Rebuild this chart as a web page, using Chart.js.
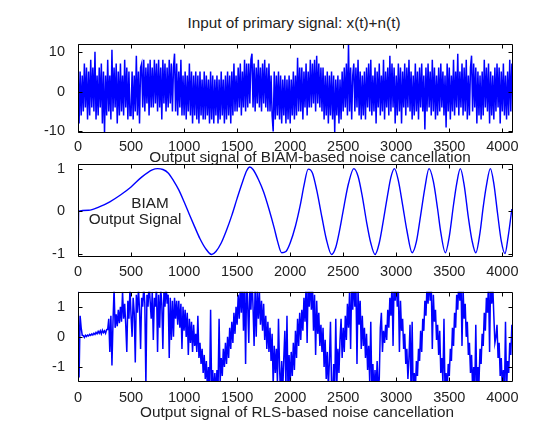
<!DOCTYPE html>
<html><head><meta charset="utf-8">
<script src="https://cdn.jsdelivr.net/npm/chart.js@4.4.0/dist/chart.umd.min.js"></script>
<style>
html,body{margin:0;padding:0;background:#fff;}
body{width:559px;height:423px;position:relative;overflow:hidden;font-family:"Liberation Sans",Arial,sans-serif;}
canvas{position:absolute;left:0;}
.t{position:absolute;white-space:nowrap;font-size:15.3px;color:#222;transform:translate(-50%,-50%);line-height:1;}
</style></head><body>
<div class="t" style="left:294px;top:23px">Input of primary signal: x(t)+n(t)</div>
<canvas id="c1" width="559" height="123" style="top:30px"></canvas>
<canvas id="c2" width="559" height="128" style="top:150px"></canvas>
<div class="t" style="left:310px;top:157px">Output signal of BIAM-based noise cancellation</div>
<div class="t" style="left:150px;top:203px">BIAM</div>
<div class="t" style="left:135px;top:219px">Output Signal</div>
<canvas id="c3" width="559" height="125" style="top:278px"></canvas>
<div class="t" style="left:297px;top:412px">Output signal of RLS-based noise cancellation</div>
<script>
// ---------- data ----------
const xTicks = [0, 500, 1000, 1500, 2000, 2500, 3000, 3500, 4000];
const primaryYTicks = [-10, 0, 10];
const biamYTicks = [-1, 0, 1];
const rlsYTicks = [-1, 0, 1];
const sampleStep = 10; // samples between stored values (sample index = i*sampleStep)

// primary input x(t)+n(t), one value every 10 samples
const primaryValues = [
 7,-8,5,-6,4,-5,7,-4,6,-7,
 5,-6,8,-4,6,-5,10,-7,4,-6,
 6,-4,7,-8,5,-10.5,4,-6,8,-5,
 4,-7,10.5,-5,6,-4,7,-8,5,-6,
 7,-5,4,-6,8,-4,6,-7,5,-6,
 -6,5,-7,4,-5,9,-6,5,-8,6,
 7,-4,8,-5,6,-3,7,-6,8,-4,
 6,-4,8,-3,7,-5,8,-4,6,-7,
 8,-3,7,-5,6,-4,8,-3,7,-5,
 6,9.5,-5,7,-6,5,-4,8,-6,4,
 -6,5,-7,4,-5,7,-6,5,-8,4,
 -6,5,-7,4,-8,5,-6,3,-7,5,
 -7,4,-6,3,-8,5,-7,4,-8,3,
 -6,4,-8,3,-7,5,-6,3,-8,4,
 -7,5,-6,4,-8,5,-6,7,-5,4,
 -5,6,-4,7,-6,5,-4,8,-5,7,
 -4,7,-3,8,9.5,-4,7,-5,6,-3,
 8,-4,6,-5,7,-3,8,-4,6,-5,
 7,-5,4,-6,-10,5,-7,4,-6,5,
 -7,4,-8,3,-6,4,-8,3,-7,4,
 -8,3,-6,5,-7,4,-6,8.5,-5,6,
 -5,6,-7,5,-4,7,-6,5,-4,8,
 -4,7,-3,8,-5,9,-3,7,-4,6,
 -5,6,-7,4,-6,5,-8,4,-6,5,
 -7,4,-10.2,3,-6,4,-8,3,-7,5,
 -5,6,-4,7,-6,12,-5,6,-7,4,
 7,-5,6,-4,8,-6,5,-7,4,-6,
 5,-7,6,-4,7,-5,8,-6,4,-5,
 6,-8,5,-4,7,-6,4,-5,8,-7,
 5,-4,6,-6,9,-5,7,-4,6,-8,
 4,-6,7,-5,6,-8,5,-4,7,-6,
 6,-4,8,-5,5,-7,4,-6,7,-5,
 5,-7,6,-4,7,-5,4,-9.5,6,-5,
 7,-4,5,-6,8,-5,6,-7,4,-6,
 6,-5,7,-4,5,-6,4,-9,7,-5,
 6,-7,4,-5,8,-6,5,-4,9.5,-6,
 5,-4,7,-6,6,-5,8,-7,4,-6,
 6,9,-5,7,-4,6,-8,5,-6,4,
 -7,5,-6,8,-4,6,-5,7,-8,5,
 -6,4,-7,6,-5,7,-4,6,-8,5,
 -5,7,-6,4,-7,5,-6,8,-5,7
];

// BIAM output: sample index / value pairs
const biamX = [0,2,6,100,200,300,400,500,600,700,750,800,850,900,950,1000,1050,1100,1150,1200,1260,1300,1350,1400,1450,1500,1550,1590,1620,1650,1700,1750,1800,1850,1880,1920,1960,2000,2050,2100,2130,2170,2210,2250,2300,2340,2390,2430,2470,2510,2550,2600,2640,2680,2720,2760,2800,2840,2880,2920,2950,2983,3020,3060,3100,3150,3190,3230,3270,3309,3350,3390,3420,3463,3500,3540,3570,3604,3640,3680,3715,3750,3790,3820,3850,3887,3920,3955,3990,4025,4055,4090];
const biamY = [0.45,-1.05,0,0.02,0.1,0.22,0.38,0.57,0.8,0.97,1.0,0.98,0.9,0.72,0.5,0.22,-0.08,-0.37,-0.65,-0.87,-1.02,-0.95,-0.75,-0.45,-0.1,0.3,0.68,0.95,1.04,0.98,0.75,0.45,0.05,-0.4,-0.7,-0.98,-0.95,-0.75,-0.35,0.2,0.6,0.99,0.9,0.5,-0.15,-0.65,-1.02,-0.85,-0.4,0.15,0.65,1.0,0.82,0.35,-0.25,-0.75,-1.02,-0.75,-0.2,0.4,0.8,1.0,0.72,0.15,-0.45,-0.98,-0.72,-0.1,0.55,1.0,0.7,0.05,-0.5,-0.98,-0.6,0.15,0.65,1.0,0.62,-0.15,-0.7,-0.98,-0.5,0.1,0.6,1.0,0.65,-0.05,-0.7,-1.0,-0.6,0.05];

// RLS output, one value every 10 samples
const rlsValues = [
 1.6,-1.35,0.7,0.3,0.05,0.04,-0.02,0.05,0.01,0.06,
 0.03,0.08,0.05,0.1,0.06,0.12,0.08,0.15,0.1,0.18,
 0.12,0.2,0.1,0.22,0.14,0.2,0.12,0.24,0.25,0.6,
 -0.5,0.7,-0.95,0.5,1.6,0.3,0.75,0.35,0.9,0.45,
 1.0,0.5,1.5,0.6,1.1,0.4,-0.5,1.2,0.6,1.6,
 0.7,0.0,1.3,0.8,-0.85,1.4,0.8,1.6,0.9,-0.4,
 1.3,1.0,1.7,1.1,-1.6,1.4,1.0,1.8,1.2,0.6,
 1.5,-0.1,1.3,1.0,1.7,-0.5,1.4,0.3,1.6,1.1,
 -0.4,1.5,1.0,1.8,1.1,1.4,-0.7,1.3,-0.1,1.2,
 0.0,1.3,0.6,1.2,0.4,1.2,0.3,1.1,-0.4,1.0,
 0.2,0.9,0.0,0.8,-0.6,0.6,-0.2,0.5,-0.5,0.4,
 -0.3,0.1,-0.5,0.7,-0.7,-0.2,-0.9,-0.4,-1.2,-0.6,
 -1.4,-0.8,-1.7,-1.0,-1.9,0.9,-1.8,-1.1,-2.0,-1.2,
 -1.9,-1.1,-1.8,0.6,-1.5,-0.7,-1.3,-0.4,-1.0,-0.2,
 -0.9,0.0,-0.7,0.3,-0.4,0.5,-0.2,0.8,0.1,1.0,
 0.4,1.4,0.6,1.7,0.8,2.0,0.2,1.8,-0.9,2.0,
 1.0,-0.2,1.9,0.9,2.0,1.0,-0.3,1.7,0.0,1.6,
 0.6,1.5,0.4,1.2,0.2,1.1,-0.1,0.7,-0.4,0.5,
 -0.5,0.3,-0.8,0.1,-1.6,-0.3,-1.2,-0.4,-1.5,0.6,
 -1.0,-2.0,-0.8,-1.8,-0.7,0.2,-1.7,0.7,-1.9,-0.6,
 -1.6,-0.5,-1.3,-0.2,-1.1,0.2,-0.7,0.6,-0.3,0.8,
 -0.1,0.9,0.2,1.3,0.5,1.7,-0.2,2.0,1.0,1.9,
 0.9,1.8,0.2,1.4,-0.6,1.2,0.1,0.8,-0.3,0.4,
 -0.5,0.3,-1.0,-0.1,-1.4,-0.5,-1.7,-0.8,0.5,-1.6,
 -2.0,-0.9,-1.8,0.6,-1.6,-0.4,-1.2,-0.1,0.6,-0.7,
 0.3,-0.5,0.7,-0.1,1.1,0.3,1.5,-0.4,1.8,0.9,
 2.0,1.0,1.8,-0.9,1.6,0.4,1.2,-0.4,0.7,-0.3,
 0.3,-0.7,0.1,-1.1,-0.3,-1.5,0.5,-1.8,-0.9,-2.0,
 -1.1,-1.9,-0.8,-1.7,-1.4,0.3,0.8,-0.5,0.2,-0.2,
 0.4,-0.1,0.9,0.3,1.3,0.7,1.8,-0.3,2.0,1.2,
 1.9,1.0,1.6,-0.5,1.2,0.2,0.6,-0.4,0.1,-0.9,
 -0.4,-1.4,-0.7,0.4,-1.9,0.5,-2.0,-1.2,-1.8,-0.8,
 -1.3,-0.4,-0.8,0.2,-0.5,0.6,0.2,1.2,0.7,1.7,
 1.1,2.0,1.2,1.8,-0.4,1.4,0.5,0.9,-0.1,0.4,
 -0.6,0.2,-1.2,-0.7,-1.5,0.6,-1.9,-1.2,-1.8,-0.9,
 -1.3,-0.4,-0.8,0.3,-0.3,0.8,0.3,1.4,0.9,1.9,
 1.2,2.0,-0.3,1.6,0.6,1.1,0.0,0.5,-0.6,-0.2,
 -1.2,-0.6,-1.7,-1.0,-1.9,0.4,-1.9,-1.0,-1.5,-0.4,
 -0.9,0.1,-0.3,0.8,0.2,1.3,0.8,1.8,-0.5,2.0,
 1.1,1.7,0.7,-0.2,0.0,0.4,-0.7,-0.2,-1.3,-0.7,
 -1.7,-1.1,-2.0,0.5,-1.8,-0.8,-1.2,-0.2,-0.6,0.4
];

// ---------- drawing ----------
const FONT = {family: '"Liberation Sans", Arial, sans-serif', size: 14.5};
const TXT = '#222';
const BLUE = '#0000ff';

const boxPlugin = {
  id: 'matlabBox',
  afterDraw(chart) {
    const {ctx, chartArea: a, scales: {x, y}} = chart;
    const L = Math.round(a.left) + 0.5, R = Math.round(a.right) - 0.5;
    const T = Math.round(a.top) + 0.5, B = Math.round(a.bottom) - 0.5;
    ctx.save();
    ctx.strokeStyle = '#000';
    ctx.lineWidth = 1;
    ctx.beginPath();
    ctx.rect(L, T, R - L, B - T);
    x.ticks.forEach(t => {
      const p = Math.round(x.getPixelForValue(t.value)) + 0.5;
      ctx.moveTo(p, B); ctx.lineTo(p, B - 4);
      ctx.moveTo(p, T); ctx.lineTo(p, T + 4);
    });
    y.ticks.forEach(t => {
      const p = Math.round(y.getPixelForValue(t.value)) + 0.5;
      ctx.moveTo(L, p); ctx.lineTo(L + 4, p);
      ctx.moveTo(R, p); ctx.lineTo(R - 4, p);
    });
    ctx.stroke();
    ctx.restore();
  }
};

function makeChart(id, points, cfg) {
  return new Chart(document.getElementById(id), {
    type: 'line',
    data: {datasets: [{
      data: points,
      borderColor: BLUE,
      borderWidth: cfg.lw,
      pointRadius: 0,
      fill: false,
      tension: cfg.tension || 0,
      cubicInterpolationMode: cfg.tension ? 'monotone' : 'default'
    }]},
    options: {
      responsive: false,
      animation: false,
      devicePixelRatio: 1,
      events: [],
      layout: {padding: {left: 38, right: 46.5, top: cfg.padTop, bottom: 0}},
      plugins: {legend: {display: false}, tooltip: {enabled: false}, title: {display: false}},
      scales: {
        x: {
          type: 'linear', min: 0, max: 4096,
          afterBuildTicks: s => { s.ticks = xTicks.map(v => ({value: v})); },
          afterFit: s => { s.height = cfg.xh; },
          grid: {display: false}, border: {display: false},
          ticks: {font: FONT, color: TXT, padding: cfg.xpad, maxRotation: 0, autoSkip: false, callback: v => String(v)}
        },
        y: {
          type: 'linear', min: cfg.ymin, max: cfg.ymax,
          afterBuildTicks: s => { s.ticks = cfg.yTicks.map(v => ({value: v})); },
          afterFit: s => { s.width = 40; },
          grid: {display: false}, border: {display: false},
          ticks: {font: FONT, color: TXT, padding: 5, autoSkip: false, callback: v => String(v)}
        }
      }
    },
    plugins: [boxPlugin]
  });
}

makeChart('c1', primaryValues.map((v, i) => ({x: i * sampleStep, y: v})),
  {lw: 1.5, padTop: 11, xh: 20, xpad: -3, ymin: -10.4, ymax: 12, yTicks: primaryYTicks});
makeChart('c2', biamX.map((x, i) => ({x: x, y: biamY[i]})),
  {lw: 1.4, tension: 0.4, padTop: 14, xh: 21, xpad: -2, ymin: -1.08, ymax: 1.11, yTicks: biamYTicks});
makeChart('c3', rlsValues.map((v, i) => ({x: i * sampleStep, y: v})),
  {lw: 1.5, padTop: 11, xh: 21, xpad: -1, ymin: -1.5, ymax: 1.5, yTicks: rlsYTicks});
</script>
</body></html>
